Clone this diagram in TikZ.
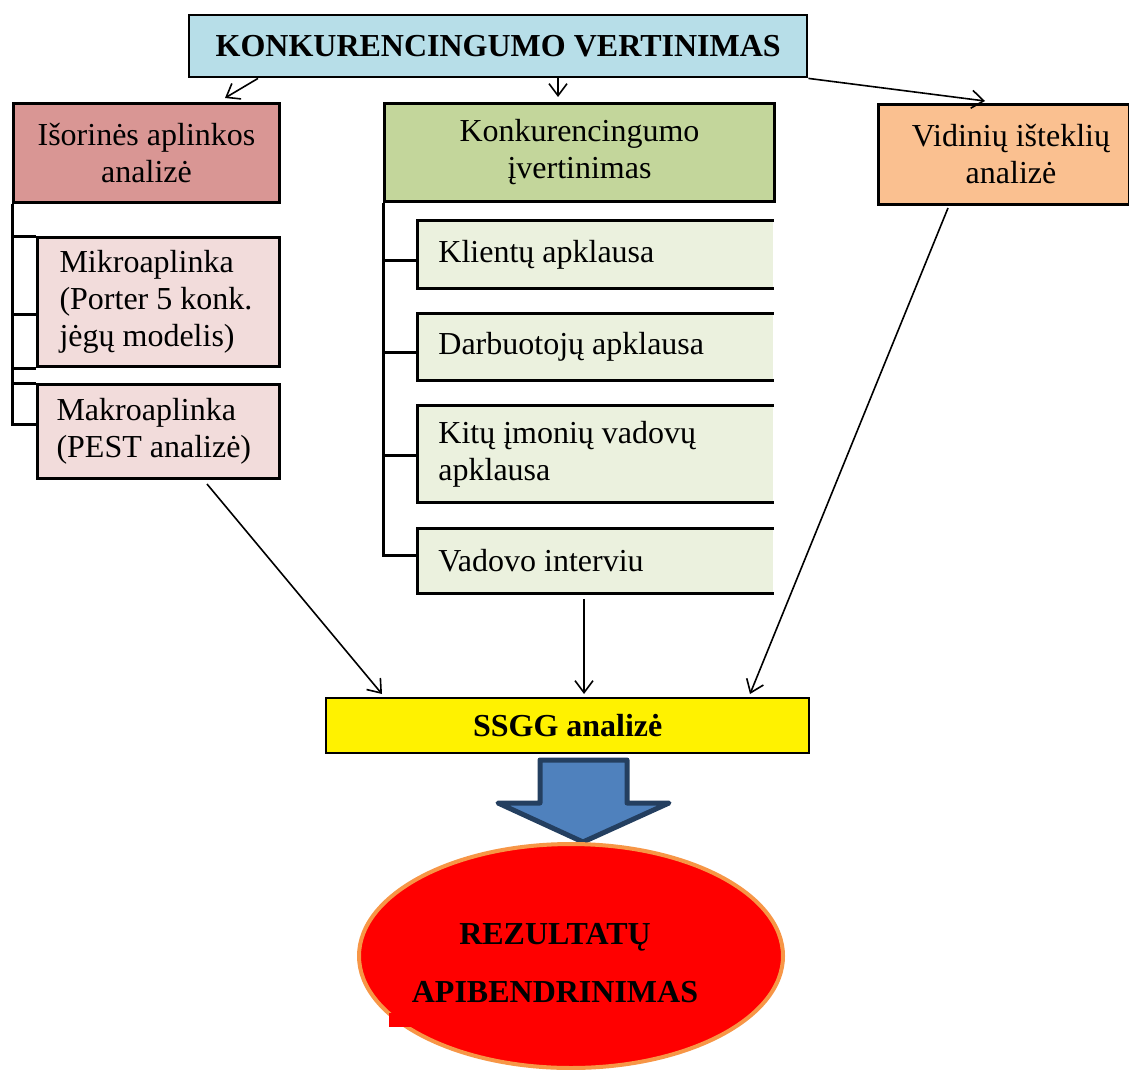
\documentclass[tikz,border=0pt]{standalone}
\usepackage{fontspec}
\setmainfont{Liberation Serif}
\usetikzlibrary{arrows.meta,shapes.geometric,calc}

\definecolor{topblue}{HTML}{B7DEE8}
\definecolor{extred}{HTML}{D99694}
\definecolor{extpink}{HTML}{F2DCDB}
\definecolor{compgreen}{HTML}{C3D69B}
\definecolor{complight}{HTML}{EBF1DE}
\definecolor{intorange}{HTML}{FAC090}
\definecolor{ellborder}{HTML}{F79646}
\definecolor{arrblue}{HTML}{4F81BD}
\definecolor{arrdark}{HTML}{243F60}

\newcommand\diagfont{\fontsize{16}{18.5}\selectfont}

\begin{document}
\begin{tikzpicture}[x=0.5pt,y=-0.5pt,
  box/.style={draw, line width=1.5pt, anchor=north west, inner sep=0pt,
    align=center, font=\diagfont},
  subbox/.style={draw=none, anchor=north west, inner ysep=0pt,
    align=flush left, font=\diagfont},
  edge/.style={line width=1.5pt},
  tree/.style={line width=1.5pt},
  conn/.style={line width=0.8pt, -{Straight Barb[length=6pt,width=9pt,line width=0.8pt]}}]
\useasboundingbox (0,0) rectangle (1129,1070);

% headline box
\node[box, line width=1.2pt, fill=topblue, minimum width=309pt, minimum height=31pt,
  font=\diagfont\bfseries] (top) at (188,14) {KONKURENCINGUMO VERTINIMAS};

% three main branches
\node[box, fill=extred, minimum width=133pt, minimum height=49.5pt] (isor) at (12,102)
  {Išorinės aplinkos\\analizė};
\node[box, fill=compgreen, minimum width=195pt, minimum height=49pt] (green) at (383,102)
  {Konkurencingumo\\įvertinimas};
\node[box, fill=intorange, minimum width=125.5pt, minimum height=50pt] (vid) at (877,103)
  {\hspace*{7pt}Vidinių išteklių\\\hspace*{7pt}analizė};

% external environment sub-items
\node[subbox, draw, line width=1.5pt, fill=extpink, inner xsep=11pt, text width=99pt,
  minimum height=64.5pt] (mikro) at (36,236)
  {\mbox{Mikroaplinka}\\\mbox{(Porter 5 konk.}\\\mbox{jėgų modelis)}};
\node[subbox, draw, line width=1.5pt, fill=extpink, inner xsep=9.5pt, text width=102pt,
  minimum height=47pt] (makro) at (36,383)
  {\mbox{Makroaplinka}\\\mbox{(PEST analizė)}};

% competitiveness sub-items (open on the right)
\node[subbox, fill=complight, inner xsep=10.5pt, text width=157pt, minimum height=34pt]
  (klient) at (417,220) {Klientų apklausa};
\node[subbox, fill=complight, inner xsep=10.5pt, text width=157pt, minimum height=33.5pt]
  (darb) at (417,313) {Darbuotojų apklausa};
\node[subbox, fill=complight, inner xsep=10.5pt, text width=157pt, minimum height=48.5pt]
  (kitu) at (417,405) {Kitų įmonių vadovų\\apklausa};
\node[subbox, fill=complight, inner xsep=10.5pt, text width=157pt, minimum height=32.5pt]
  (vad) at (417,528) {Vadovo interviu};
\foreach \n in {klient,darb,kitu,vad}
  \draw[edge] (\n.north east) -- (\n.north west) -- (\n.south west) -- (\n.south east);

% left tree lines
\draw[tree] (isor.south west) -- ++(0,220) -- ++(24,0);
\draw[tree] (mikro.north west) -- ++(-24,0);
\draw[tree] ([yshift=-39pt]mikro.north west) -- ++(-24,0);
\draw[tree] (mikro.south west) -- ++(-24,0);
\draw[tree] (makro.north west) -- ++(-24,0);

% centre tree lines
\draw[tree] (green.south west) |- ([yshift=2.75pt]vad.west);
\draw[tree] ([yshift=-3pt]klient.west) -- ++(-34,0);
\draw[tree] ([yshift=-2.75pt]darb.west) -- ++(-34,0);
\draw[tree] ([yshift=-0.75pt]kitu.west) -- ++(-34,0);

% SWOT box
\node[box, line width=1.2pt, fill=yellow, minimum width=241.5pt, minimum height=27.5pt,
  font=\diagfont\bfseries] (ssgg) at (325,697) {SSGG analizė};

% connectors
\draw[conn] ([xshift=35pt]top.south west) -- ([xshift=-28pt,yshift=2pt]isor.north east);
\draw[conn] ([xshift=185pt]top.south west) -- ([xshift=87.5pt,yshift=2.5pt]green.north west);
\draw[conn] (top.south east) -- ([xshift=54pt,yshift=1pt]vid.north west);
\draw[conn] ([xshift=85.5pt,yshift=-2pt]makro.south west) -- ([xshift=28.5pt,yshift=1.5pt]ssgg.north west);
\draw[conn] ([xshift=83.5pt,yshift=-2.5pt]vad.south west) -- ([xshift=129.5pt,yshift=1.5pt]ssgg.north west);
\draw[conn] ([xshift=35.5pt,yshift=-1pt]vid.south west) -- ([xshift=212.5pt,yshift=1.5pt]ssgg.north west);

% block arrow
\draw[fill=arrblue, draw=arrdark, line width=2.5pt, line join=round]
  (540,760) -- (627,760) -- (627,803) -- (669,803) -- (583,842) -- (498,803) -- (540,803) -- cycle;

% result ellipse
\node[ellipse, fill=red, draw=ellborder, line width=2pt, inner sep=0pt,
  minimum width=212pt, minimum height=112pt] (res) at (571,956) {};
\fill[red] (389,1013) rectangle (445,1027);
\node[font=\diagfont\bfseries, inner sep=0pt] (res1) at (555,937) {REZULTATŲ};
\node[font=\diagfont\bfseries, inner sep=0pt] (res2) at (555,992) {APIBENDRINIMAS};
\end{tikzpicture}
\end{document}
